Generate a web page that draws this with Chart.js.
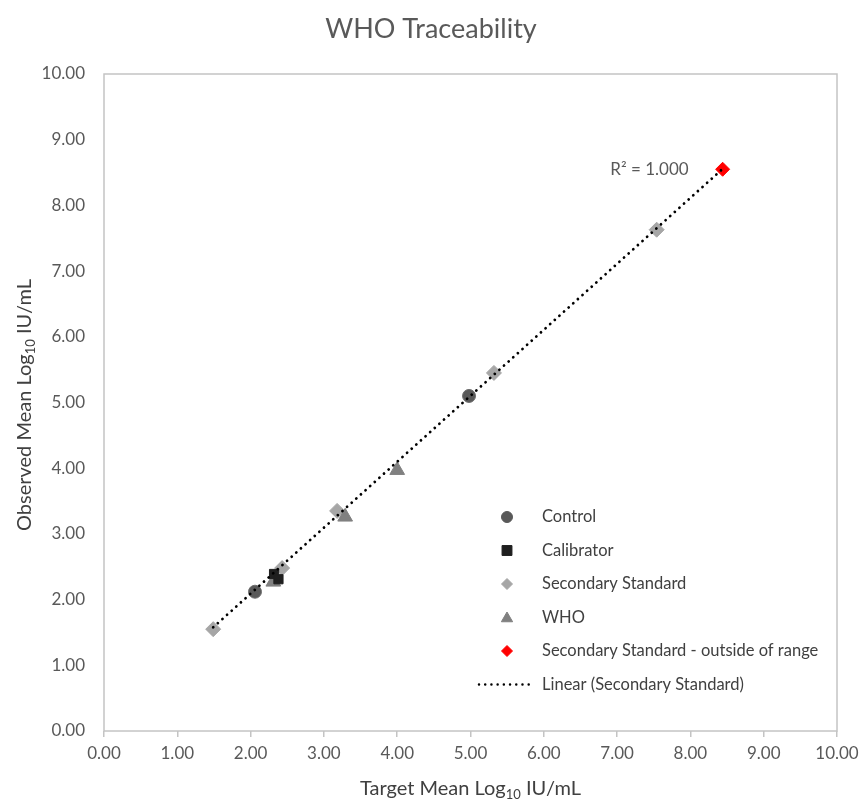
<!DOCTYPE html>
<html>
<head>
<meta charset="utf-8">
<script src="https://cdn.jsdelivr.net/npm/chart.js@4.4.0/dist/chart.umd.min.js"></script>
<style>
  html, body { margin: 0; padding: 0; background: #ffffff; }
  #wrap { width: 861px; height: 800px; }
</style>
</head>
<body>
<div id="wrap"><canvas id="c" width="861" height="800"></canvas></div>
<script>
// ---- data ----
const chartTitle = "WHO Traceability";
const xTitleParts = ["Target Mean Log", "10", " IU/mL"];
const yTitleParts = ["Observed Mean Log", "10", " IU/mL"];

const controlX = [2.06, 4.98];
const controlY = [2.12, 5.10];

const calibratorX = [2.32, 2.38];
const calibratorY = [2.39, 2.31];

const secStdX = [1.49, 2.43, 3.18, 5.32, 7.54];
const secStdY = [1.55, 2.48, 3.35, 5.45, 7.63];

const whoX = [2.31, 3.29, 4.00];
const whoY = [2.27, 3.26, 3.97];

const outsideX = [8.44];
const outsideY = [8.55];

const rSquaredLabel = "R² = 1.000";

const legendLabels = ["Control", "Calibrator", "Secondary Standard", "WHO",
  "Secondary Standard - outside of range", "Linear (Secondary Standard)"];

const axisMin = 0, axisMax = 10, axisStep = 1;

// ---- linear trend over the Secondary Standard points ----
const fitX = secStdX.concat(outsideX);
const fitY = secStdY.concat(outsideY);
function linFit(xs, ys) {
  const n = xs.length;
  const mx = xs.reduce((a, b) => a + b, 0) / n;
  const my = ys.reduce((a, b) => a + b, 0) / n;
  let sxy = 0, sxx = 0;
  for (let i = 0; i < n; i++) { sxy += (xs[i] - mx) * (ys[i] - my); sxx += (xs[i] - mx) ** 2; }
  const m = sxy / sxx;
  return { m, b: my - m * mx };
}
const fit = linFit(fitX, fitY);
const trendXs = [Math.min(...fitX), Math.max(...fitX)];
const trendPts = trendXs.map(x => ({ x, y: fit.m * x + fit.b }));

const pts = (xs, ys) => xs.map((x, i) => ({ x, y: ys[i] }));

const FONT = "Lato, 'Open Sans', sans-serif";
const TXT = "#595959";

const COL_CONTROL = "#595959";
const COL_CAL = "#1f1f1f";
const COL_SEC = "#a6a6a6";
const COL_WHO = "#808080";
const COL_OUT = "#ff0000";

// ---- custom drawing plugin: title, axis titles, frame, legend, R² ----
function drawSubText(ctx, parts, x, y, size, align) {
  const sub = Math.round(size * 0.65);
  ctx.font = size + "px " + FONT;
  const w0 = ctx.measureText(parts[0]).width;
  ctx.font = sub + "px " + FONT;
  const w1 = ctx.measureText(parts[1]).width;
  ctx.font = size + "px " + FONT;
  const w2 = ctx.measureText(parts[2]).width;
  const total = w0 + w1 + w2;
  let sx = align === "center" ? x - total / 2 : x;
  ctx.textAlign = "left";
  ctx.textBaseline = "alphabetic";
  ctx.fillText(parts[0], sx, y);
  ctx.font = sub + "px " + FONT;
  ctx.fillText(parts[1], sx + w0, y + size * 0.22);
  ctx.font = size + "px " + FONT;
  ctx.fillText(parts[2], sx + w0 + w1, y);
}

const decor = {
  id: "decor",
  afterDraw(chart) {
    const ctx = chart.ctx;
    const a = chart.chartArea;
    ctx.save();
    // frame
    ctx.strokeStyle = "#c4c4c4";
    ctx.lineWidth = 1.5;
    ctx.strokeRect(a.left, a.top, a.right - a.left, a.bottom - a.top);

    // title
    ctx.fillStyle = TXT;
    ctx.font = "27px " + FONT;
    ctx.textAlign = "center";
    ctx.textBaseline = "middle";
    ctx.fillText(chartTitle, 431, 29);

    // x title
    ctx.fillStyle = "#404040";
    drawSubText(ctx, xTitleParts, (a.left + a.right) / 2, 795, 20, "center");
    // y title
    ctx.save();
    ctx.translate(31, 405);
    ctx.rotate(-Math.PI / 2);
    drawSubText(ctx, yTitleParts, 0, 0, 20, "center");
    ctx.restore();

    // R² label
    const xs = chart.scales.x, ys = chart.scales.y;
    ctx.fillStyle = TXT;
    ctx.font = "17px " + FONT;
    ctx.textAlign = "right";
    ctx.textBaseline = "middle";
    ctx.fillText(rSquaredLabel, xs.getPixelForValue(trendXs[1]) - 34, ys.getPixelForValue(fit.m * trendXs[1] + fit.b) + 1);

    // legend
    const lx = 507, tx = 542, ly0 = 517, dy = 33.5;
    const markers = [
      { pointStyle: "circle", radius: 5.5, backgroundColor: COL_CONTROL, borderColor: COL_CONTROL, borderWidth: 1 },
      { pointStyle: "rect", radius: 7, backgroundColor: COL_CAL, borderColor: COL_CAL, borderWidth: 1 },
      { pointStyle: "rectRot", radius: 5.5, backgroundColor: COL_SEC, borderColor: COL_SEC, borderWidth: 1 },
      { pointStyle: "triangle", radius: 6.5, backgroundColor: COL_WHO, borderColor: COL_WHO, borderWidth: 1 },
      { pointStyle: "rectRot", radius: 5.5, backgroundColor: COL_OUT, borderColor: COL_OUT, borderWidth: 1 }
    ];
    ctx.font = "16.5px " + FONT;
    ctx.textAlign = "left";
    ctx.textBaseline = "middle";
    for (let i = 0; i < legendLabels.length; i++) {
      const y = ly0 + i * dy;
      if (i < markers.length) {
        ctx.fillStyle = markers[i].backgroundColor;
        ctx.strokeStyle = markers[i].borderColor;
        ctx.lineWidth = 1;
        Chart.helpers.drawPoint(ctx, markers[i], lx, y + (markers[i].pointStyle === "triangle" ? 1 : 0));
      } else {
        ctx.save();
        ctx.strokeStyle = "#000000";
        ctx.lineWidth = 2.5;
        ctx.lineCap = "round";
        ctx.setLineDash([0.01, 6.2]);
        ctx.beginPath();
        ctx.moveTo(479, y);
        ctx.lineTo(532, y);
        ctx.stroke();
        ctx.restore();
      }
      ctx.fillStyle = "#404040";
      ctx.fillText(legendLabels[i], tx, y);
    }
    ctx.restore();
  }
};

new Chart(document.getElementById("c"), {
  type: "scatter",
  data: {
    datasets: [
      {
        label: legendLabels[5], data: trendPts, type: "line", showLine: true,
        borderColor: "#000000", borderWidth: 2.8, borderDash: [0.01, 6.2], borderCapStyle: "round",
        pointRadius: 0, fill: false, order: 0
      },
      { label: legendLabels[2], data: pts(secStdX, secStdY), pointStyle: "rectRot", pointRadius: 7.5,
        backgroundColor: COL_SEC, borderColor: COL_SEC, borderWidth: 1, order: 6 },
      { label: legendLabels[3], data: pts(whoX, whoY), pointStyle: "triangle", pointRadius: 8.5,
        backgroundColor: COL_WHO, borderColor: COL_WHO, borderWidth: 1, order: 5 },
      { label: legendLabels[0], data: pts(controlX, controlY), pointStyle: "circle", pointRadius: 6.5,
        backgroundColor: COL_CONTROL, borderColor: "#6e6e6e", borderWidth: 1, order: 4 },
      { label: legendLabels[1], data: pts(calibratorX, calibratorY), pointStyle: "rect", pointRadius: 6.5,
        backgroundColor: COL_CAL, borderColor: COL_CAL, borderWidth: 1, order: 3 },
      { label: legendLabels[4], data: pts(outsideX, outsideY), pointStyle: "rectRot", pointRadius: 7,
        backgroundColor: COL_OUT, borderColor: COL_OUT, borderWidth: 1, order: 2 }
    ]
  },
  options: {
    responsive: false,
    animation: false,
    devicePixelRatio: 1,
    layout: { padding: { top: 74, right: 24, left: 0, bottom: 0 } },
    plugins: { legend: { display: false }, tooltip: { enabled: false }, title: { display: false } },
    scales: {
      x: {
        type: "linear", min: axisMin, max: axisMax,
        ticks: { stepSize: axisStep, color: TXT, font: { family: FONT, size: 17 }, padding: 6,
          callback: v => Number(v).toFixed(2), maxRotation: 0, autoSkip: false },
        grid: { drawOnChartArea: false, drawTicks: true, tickLength: 6, color: "#c4c4c4", lineWidth: 1.5 },
        border: { display: false },
        afterFit(s) { s.height = 69; s.paddingRight = 0; s.paddingLeft = 0; }
      },
      y: {
        type: "linear", min: axisMin, max: axisMax,
        ticks: { stepSize: axisStep, color: TXT, font: { family: FONT, size: 17 }, padding: 19,
          callback: v => Number(v).toFixed(2) },
        grid: { display: false, drawTicks: false },
        border: { display: false },
        afterFit(s) { s.width = 104; s.paddingTop = 0; s.paddingBottom = 0; }
      }
    }
  },
  plugins: [decor]
});
</script>
</body>
</html>
